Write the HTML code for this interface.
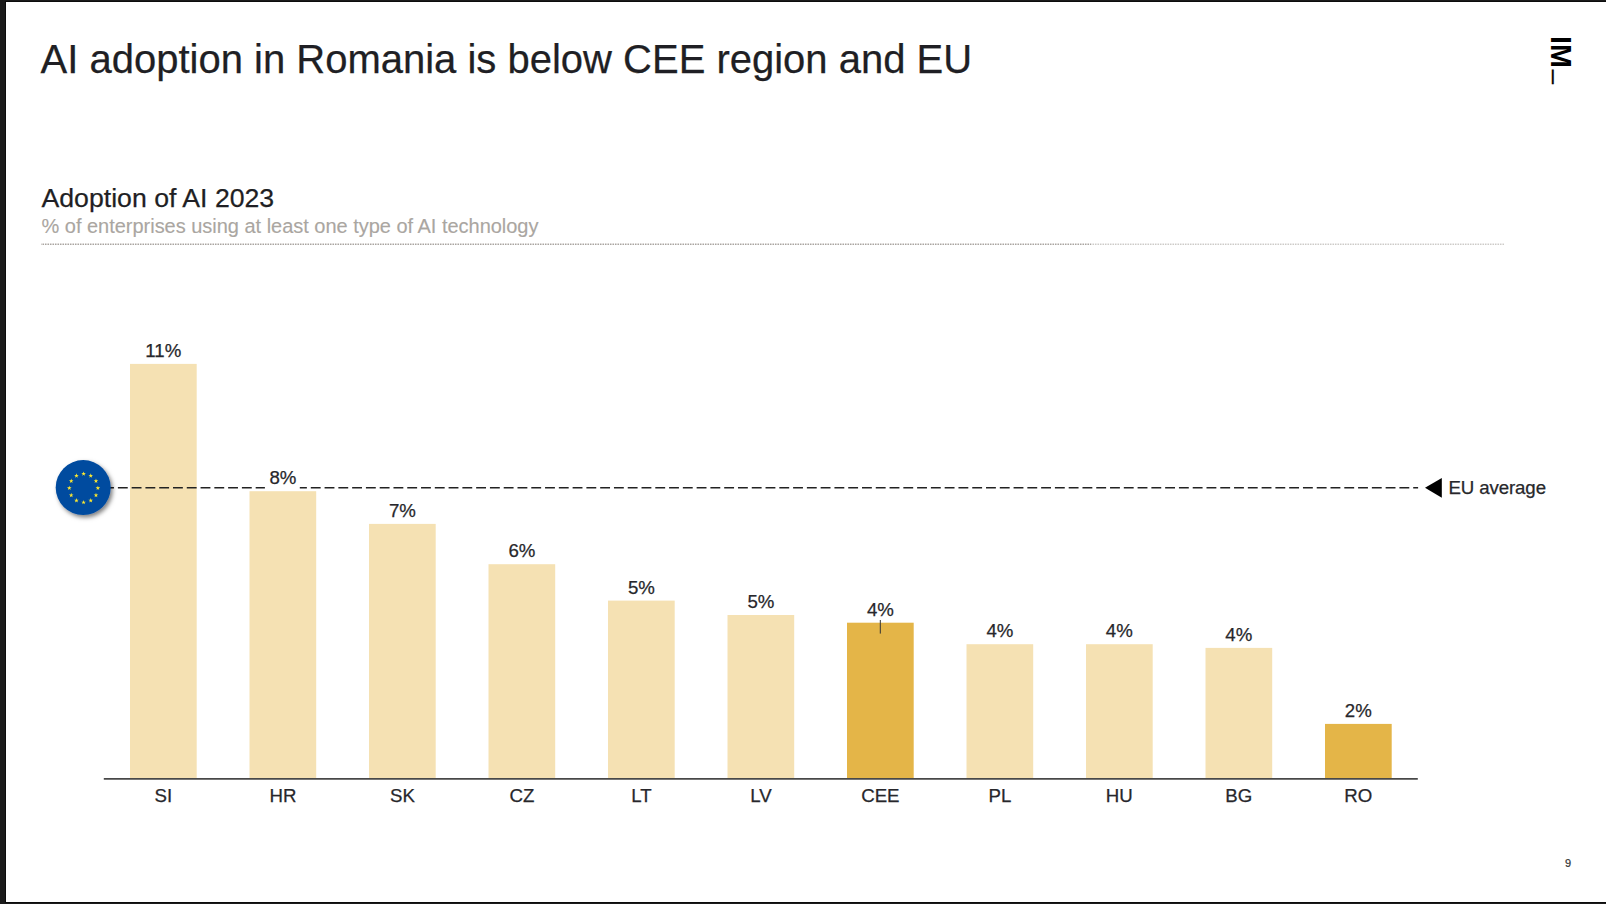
<!DOCTYPE html>
<html lang="en"><head><meta charset="utf-8"><title>AI adoption in Romania is below CEE region and EU</title>
<style>
html,body{margin:0;padding:0;background:#1b1b1b;}
body{width:1606px;height:904px;position:relative;overflow:hidden;font-family:"Liberation Sans",Arial,sans-serif;color:#222226;}
#slide{position:absolute;left:6px;top:2px;width:1600px;height:900px;background:#fff;box-shadow:0 0 0 1px #0c0c0c;}
.abs{position:absolute;white-space:nowrap;line-height:1;}
#title,#sub1,.val,.cat,#eulabel{-webkit-text-stroke:0.25px currentColor;}
#sub2{-webkit-text-stroke:0.12px currentColor;}
#title{left:34.5px;top:36.6px;font-size:40px;color:#1f1f24;}
#sub1{left:35.5px;top:183px;font-size:26.67px;color:#1f1f24;}
#sub2{left:35.5px;top:214px;letter-spacing:-0.02px;font-size:20px;color:#aaa6a1;}
#dots{left:35px;top:242px;width:1050px;height:1px;background:repeating-linear-gradient(90deg,#a9a5a1 0 1px,#d3d0cd 1px 3px,#a9a5a1 3px 4px,#f7f7f7 4px 5px);background-position:-1px 0;}
#dots3{left:1085px;top:242px;width:413px;height:1px;background:repeating-linear-gradient(90deg,#cdcbc8 0 1px,#e6e5e3 1px 3px,#cdcbc8 3px 4px,#fafafa 4px 5px);background-position:-1px 0;}
#dots4{left:1085px;top:241px;width:413px;height:1px;background:repeating-linear-gradient(90deg,#e8e7e6 0 1px,#f3f2f2 1px 3px,#e8e7e6 3px 4px,#fdfdfd 4px 5px);background-position:-1px 0;}
#dots2{left:35px;top:241px;width:1050px;height:1px;background:repeating-linear-gradient(90deg,#d6d3d1 0 1px,#eae8e7 1px 3px,#d6d3d1 3px 4px,#fcfcfc 4px 5px);background-position:-1px 0;}
.val{position:absolute;white-space:nowrap;line-height:1;font-size:18.67px;color:#27272b;text-align:center;transform:translateX(-50%);}
.cat{position:absolute;white-space:nowrap;line-height:1;font-size:18.67px;color:#27272b;text-align:center;transform:translateX(-50%);top:785px;}
#eulabel{letter-spacing:-0.1px;left:1442.4px;top:477px;font-size:18.67px;color:#27272b;}
#pg{left:1559px;top:855.5px;font-size:11px;color:#333;-webkit-text-stroke:0.2px #333;}
#logo{position:absolute;left:1548.1px;top:33.5px;width:21px;height:50px;}
#logo span{position:absolute;white-space:nowrap;line-height:1;color:#000;transform-origin:0 0;}
</style></head><body><div id="slide">
<div id="title" class="abs">AI adoption in Romania is below CEE region and EU</div>
<div id="sub1" class="abs">Adoption of AI 2023</div>
<div id="sub2" class="abs">% of enterprises using at least one type of AI technology</div>
<div id="dots" class="abs"></div><div id="dots2" class="abs"></div><div id="dots3" class="abs"></div><div id="dots4" class="abs"></div>
<svg class="abs" style="left:0;top:0" width="1600" height="900" viewBox="6 2 1600 900">
<rect x="130.00" y="363.9" width="66.7" height="414.6" fill="#f5e1b3"/><rect x="249.50" y="491.2" width="66.7" height="287.3" fill="#f5e1b3"/><rect x="369.00" y="523.9" width="66.7" height="254.6" fill="#f5e1b3"/><rect x="488.50" y="564.2" width="66.7" height="214.3" fill="#f5e1b3"/><rect x="608.00" y="600.6" width="66.7" height="177.9" fill="#f5e1b3"/><rect x="727.50" y="615.0" width="66.7" height="163.5" fill="#f5e1b3"/><rect x="847.00" y="622.7" width="66.7" height="155.8" fill="#e4b548"/><rect x="966.50" y="644.2" width="66.7" height="134.3" fill="#f5e1b3"/><rect x="1086.00" y="644.2" width="66.7" height="134.3" fill="#f5e1b3"/><rect x="1205.50" y="647.9" width="66.7" height="130.6" fill="#f5e1b3"/><rect x="1325.00" y="723.9" width="66.7" height="54.6" fill="#e4b548"/>
<line x1="104.1" y1="487.7" x2="1418.1" y2="487.7" stroke="#222" stroke-width="1.5" stroke-dasharray="9.85 3.93"/>
<rect x="264.9" y="484" width="34.9" height="6.6" fill="#fff"/>
<polygon points="1425.0,487.8 1441.8,477.9 1441.8,497.7" fill="#000"/>
<line x1="103.8" y1="778.85" x2="1417.8" y2="778.85" stroke="#484848" stroke-width="1.7"/>
<line x1="880.3" y1="620" x2="880.3" y2="633.6" stroke="#333" stroke-width="1"/>
</svg>
<div class="val" style="left:157.3px;top:339.5px;">11%</div>
<div class="cat" style="left:157.3px;">SI</div>
<div class="val" style="left:276.9px;top:466.8px;">8%</div>
<div class="cat" style="left:276.9px;">HR</div>
<div class="val" style="left:396.4px;top:499.5px;">7%</div>
<div class="cat" style="left:396.4px;">SK</div>
<div class="val" style="left:515.9px;top:539.8px;">6%</div>
<div class="cat" style="left:515.9px;">CZ</div>
<div class="val" style="left:635.4px;top:577.2px;">5%</div>
<div class="cat" style="left:635.4px;">LT</div>
<div class="val" style="left:754.9px;top:590.6px;">5%</div>
<div class="cat" style="left:754.9px;">LV</div>
<div class="val" style="left:874.4px;top:599.3px;">4%</div>
<div class="cat" style="left:874.4px;">CEE</div>
<div class="val" style="left:993.9px;top:619.8px;">4%</div>
<div class="cat" style="left:993.9px;">PL</div>
<div class="val" style="left:1113.3px;top:619.8px;">4%</div>
<div class="cat" style="left:1113.3px;">HU</div>
<div class="val" style="left:1232.8px;top:623.5px;">4%</div>
<div class="cat" style="left:1232.8px;">BG</div>
<div class="val" style="left:1352.3px;top:699.5px;">2%</div>
<div class="cat" style="left:1352.3px;">RO</div>
<svg class="abs" style="left:0;top:0" width="1600" height="900" viewBox="6 2 1600 900"><defs><filter id="sh" x="-30%" y="-30%" width="170%" height="170%"><feDropShadow dx="2" dy="2.5" stdDeviation="2" flood-color="#000" flood-opacity="0.5"/></filter></defs><circle cx="83.2" cy="487.6" r="27.5" fill="#004b9f" filter="url(#sh)"/><g fill="#ffe92e"><polygon points="83.60,471.40 84.16,473.03 85.88,473.06 84.50,474.09 85.01,475.74 83.60,474.75 82.19,475.74 82.70,474.09 81.32,473.06 83.04,473.03"/><polygon points="90.75,473.32 91.31,474.95 93.03,474.97 91.65,476.01 92.16,477.66 90.75,476.67 89.34,477.66 89.85,476.01 88.47,474.97 90.19,474.95"/><polygon points="95.98,478.55 96.54,480.18 98.27,480.21 96.89,481.24 97.39,482.89 95.98,481.90 94.57,482.89 95.08,481.24 93.70,480.21 95.43,480.18"/><polygon points="97.90,485.70 98.46,487.33 100.18,487.36 98.80,488.39 99.31,490.04 97.90,489.05 96.49,490.04 97.00,488.39 95.62,487.36 97.34,487.33"/><polygon points="95.98,492.85 96.54,494.48 98.27,494.51 96.89,495.54 97.39,497.19 95.98,496.20 94.57,497.19 95.08,495.54 93.70,494.51 95.43,494.48"/><polygon points="90.75,498.08 91.31,499.72 93.03,499.74 91.65,500.78 92.16,502.43 90.75,501.43 89.34,502.43 89.85,500.78 88.47,499.74 90.19,499.72"/><polygon points="83.60,500.00 84.16,501.63 85.88,501.66 84.50,502.69 85.01,504.34 83.60,503.35 82.19,504.34 82.70,502.69 81.32,501.66 83.04,501.63"/><polygon points="76.45,498.08 77.01,499.72 78.73,499.74 77.35,500.78 77.86,502.43 76.45,501.43 75.04,502.43 75.55,500.78 74.17,499.74 75.89,499.72"/><polygon points="71.22,492.85 71.77,494.48 73.50,494.51 72.12,495.54 72.63,497.19 71.22,496.20 69.81,497.19 70.31,495.54 68.93,494.51 70.66,494.48"/><polygon points="69.30,485.70 69.86,487.33 71.58,487.36 70.20,488.39 70.71,490.04 69.30,489.05 67.89,490.04 68.40,488.39 67.02,487.36 68.74,487.33"/><polygon points="71.22,478.55 71.77,480.18 73.50,480.21 72.12,481.24 72.63,482.89 71.22,481.90 69.81,482.89 70.31,481.24 68.93,480.21 70.66,480.18"/><polygon points="76.45,473.32 77.01,474.95 78.73,474.97 77.35,476.01 77.86,477.66 76.45,476.67 75.04,477.66 75.55,476.01 74.17,474.97 75.89,474.95"/></g></svg>
<div id="eulabel" class="abs">EU average</div>
<div id="pg" class="abs">9</div>
<div id="logo"><span id="lg1" style="font-weight:bold;font-size:28.6px;left:21px;top:0;transform:rotate(90deg);">IM</span><span id="lg2" style="font-size:24.8px;left:22.6px;top:34.1px;-webkit-text-stroke:0.4px #000;transform:rotate(90deg);">_</span></div>
</div></body></html>
